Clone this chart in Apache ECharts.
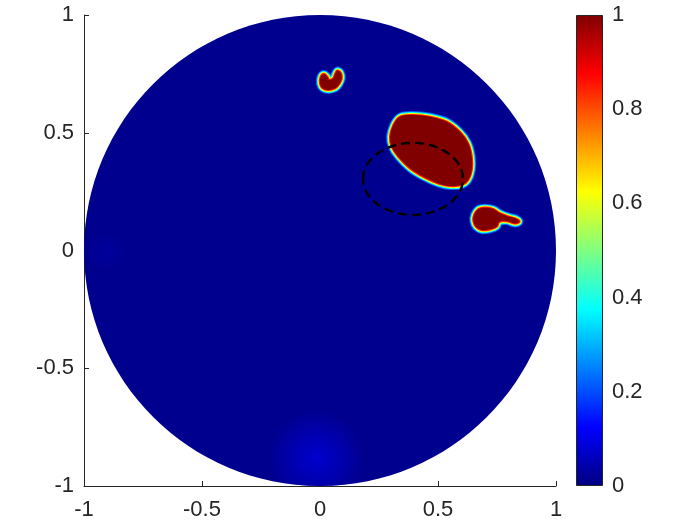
<!DOCTYPE html>
<html>
<head>
<meta charset="utf-8">
<script src="https://cdn.jsdelivr.net/npm/echarts@6/dist/echarts.min.js"></script>
<style>html,body{margin:0;padding:0;background:#fff}#c{width:700px;height:525px}</style>
</head>
<body>
<div id="c"></div>
<script>
// ---- data ----
const axisTicks = [-1, -0.5, 0, 0.5, 1];
const colorbarTicks = [0, 0.2, 0.4, 0.6, 0.8, 1];
const jetStops = [0, 0.125, 0.375, 0.625, 0.875, 1];
const domainDisk = [[0, 0, 1]];              // centre x, centre y, radius
const backgroundValue = 0.015;
const blobValue = 1;
const rimValues = [0.22, 0.38, 0.62, 0.85];
// faint lighter patches: x, y, radius, value
const faintPatches = [[-0.015, -0.88, 0.2, 0.08], [-0.904, -0.005, 0.08, 0.03]];
const bigBlob = [[0.311,0.533],[0.339,0.568],[0.395,0.575],[0.466,0.568],[0.537,0.547],[0.593,0.504],[0.628,0.455],[0.643,0.398],[0.643,0.342],[0.628,0.299],[0.600,0.278],[0.551,0.274],[0.501,0.285],[0.438,0.313],[0.381,0.349],[0.332,0.398],[0.304,0.441],[0.297,0.483]];
const rightBlob = [[0.653,0.151],[0.671,0.176],[0.699,0.182],[0.734,0.176],[0.763,0.158],[0.798,0.144],[0.833,0.134],[0.845,0.122],[0.826,0.115],[0.791,0.125],[0.760,0.122],[0.749,0.101],[0.720,0.090],[0.685,0.087],[0.661,0.101],[0.650,0.125]];
const topBlob = [[0.003,0.738],[0.017,0.750],[0.031,0.738],[0.039,0.724],[0.056,0.731],[0.064,0.750],[0.073,0.764],[0.088,0.755],[0.092,0.731],[0.082,0.707],[0.064,0.689],[0.035,0.682],[0.011,0.689],[0.0,0.710]];
const dashedEllipse = [[0.394, 0.304, 0.212, 0.153]]; // cx, cy, rx, ry

// ---- colormap ----
function clamp(v){return Math.max(0, Math.min(1, v));}
function jet(v, a){
  const r = clamp(1.5 - Math.abs(4*v - 3)), g = clamp(1.5 - Math.abs(4*v - 2)), b = clamp(1.5 - Math.abs(4*v - 1));
  return 'rgba(' + Math.round(r*255) + ',' + Math.round(g*255) + ',' + Math.round(b*255) + ',' + (a === undefined ? 1 : a) + ')';
}
const textColor = '#262626';
const fontFamily = 'Liberation Sans, Arial, Helvetica, sans-serif';
const fontSize = 22;

function diskShape(api){
  const d = domainDisk[0];
  const c = api.coord([d[0], d[1]]);
  return {cx: c[0], cy: c[1], rx: api.size([d[2], 0])[0], ry: api.size([0, d[2]])[1]};
}
function blobSeries(outline, z){
  return {
    type: 'custom', xAxisIndex: 0, yAxisIndex: 0, z: z, silent: true, clip: false,
    data: [[outline[0][0], outline[0][1]]], encode: {x: 0, y: 1},
    renderItem: function(params, api){
      const pts = outline.map(p => api.coord(p));
      const widths = [8, 6, 4.2, 2.2];
      const children = rimValues.map((v, i) => ({
        type: 'polygon', shape: {points: pts, smooth: 0.35},
        style: {fill: null, stroke: jet(v), lineWidth: widths[i], lineJoin: 'round'}
      }));
      children.push({type: 'polygon', shape: {points: pts, smooth: 0.35}, style: {fill: jet(blobValue)}});
      return {type: 'group', children: children};
    }
  };
}

const chart = echarts.init(document.getElementById('c'), null, {renderer: 'canvas'});
const axisCommon = {
  type: 'value', min: -1, max: 1, interval: 0.5,
  axisLine: {show: true, onZero: false, lineStyle: {color: textColor, width: 1}},
  axisTick: {show: true, inside: true, length: 5, lineStyle: {color: textColor}},
  splitLine: {show: false},
  axisLabel: {color: textColor, fontSize: fontSize, fontFamily: fontFamily}
};
chart.setOption({
  animation: false,
  backgroundColor: '#fff',
  grid: [
    {left: 84, top: 15, width: 472, height: 471, containLabel: false, outerBoundsMode: 'none'},
    {left: 576, top: 15, width: 27, height: 471, containLabel: false, outerBoundsMode: 'none'}
  ],
  xAxis: [
    Object.assign({}, axisCommon, {gridIndex: 0, position: 'bottom', axisLabel: Object.assign({}, axisCommon.axisLabel, {margin: 13})}),
    {type: 'category', gridIndex: 1, data: ['cb'], show: false}
  ],
  yAxis: [
    Object.assign({}, axisCommon, {gridIndex: 0, position: 'left', axisLabel: Object.assign({}, axisCommon.axisLabel, {margin: 10})}),
    {type: 'value', gridIndex: 1, position: 'right', min: 0, max: 1, interval: 0.2,
     axisLine: {show: false}, axisTick: {show: false}, splitLine: {show: false},
     axisLabel: {color: textColor, fontSize: fontSize, fontFamily: fontFamily, margin: 9}}
  ],
  series: [
    {type: 'custom', xAxisIndex: 0, yAxisIndex: 0, z: 1, silent: true, clip: false,
     data: domainDisk, encode: {x: 0, y: 1},
     renderItem: function(params, api){
       return {type: 'ellipse', shape: diskShape(api), style: {fill: jet(backgroundValue)}};
     }},
    // lighter patches: drawn as the disk itself with a radial gradient centred on the patch (clipped to the disk)
    {type: 'custom', xAxisIndex: 0, yAxisIndex: 0, z: 2, silent: true, clip: false,
     data: faintPatches, encode: {x: 0, y: 1},
     renderItem: function(params, api){
       const c = api.coord([api.value(0), api.value(1)]);
       const r = api.size([api.value(2), 0])[0];
       const v = api.value(3);
       const grad = new echarts.graphic.RadialGradient(c[0], c[1], r, [
         {offset: 0, color: jet(v, 0.95)}, {offset: 0.45, color: jet(v, 0.55)}, {offset: 1, color: jet(v, 0)}], true);
       return {type: 'ellipse', shape: diskShape(api), style: {fill: grad}};
     }},
    blobSeries(bigBlob, 3),
    blobSeries(rightBlob, 3),
    blobSeries(topBlob, 3),
    {type: 'custom', xAxisIndex: 0, yAxisIndex: 0, z: 4, silent: true, clip: false,
     data: dashedEllipse, encode: {x: 0, y: 1},
     renderItem: function(params, api){
       const c = api.coord([api.value(0), api.value(1)]);
       return {type: 'ellipse',
         shape: {cx: c[0], cy: c[1], rx: api.size([api.value(2), 0])[0], ry: api.size([0, api.value(3)])[1]},
         style: {fill: null, stroke: '#000', lineWidth: 2.4, lineDash: [9, 5]}};
     }},
    {type: 'bar', xAxisIndex: 1, yAxisIndex: 1, data: [colorbarTicks[colorbarTicks.length - 1]], barWidth: '100%', silent: true,
     itemStyle: {
       color: new echarts.graphic.LinearGradient(0, 1, 0, 0, jetStops.map(s => ({offset: s, color: jet(s)}))),
       borderColor: textColor, borderWidth: 1
     }}
  ]
});
</script>
</body>
</html>
